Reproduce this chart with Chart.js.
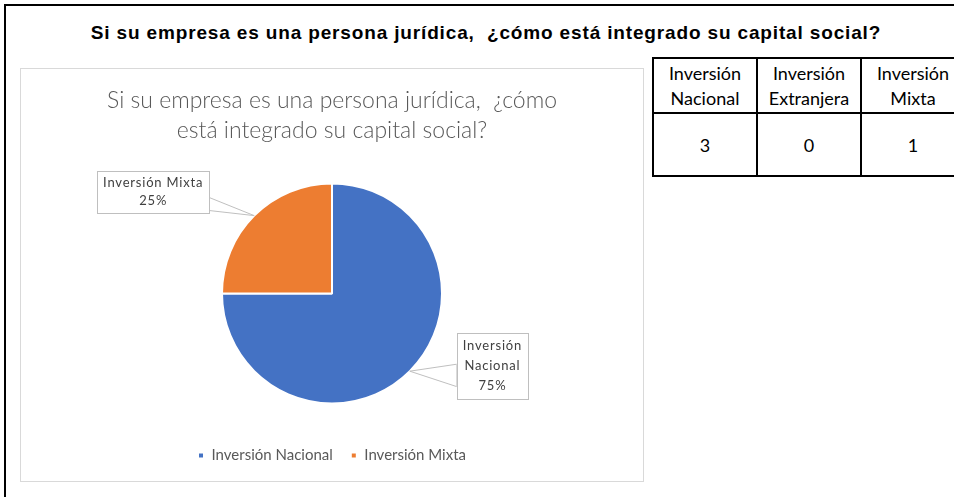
<!DOCTYPE html>
<html>
<head>
<meta charset="utf-8">
<script src="https://cdn.jsdelivr.net/npm/chart.js@4/dist/chart.umd.min.js"></script>
<style>
  html, body { margin: 0; padding: 0; background: #fff; overflow: hidden; }
  body { width: 954px; height: 497px; position: relative; }
  #frame {
    position: absolute; left: 4px; top: 4px; width: 960px; height: 500px;
    border-left: 2px solid #000; border-top: 2px solid #000;
  }
  #header {
    position: absolute; left: 0; top: 22px; width: 972px; text-align: center;
    font: bold 19px "Liberation Sans", Arial, sans-serif; letter-spacing: 0.85px; color: #000;
  }
  #box {
    position: absolute; left: 20px; top: 68px; width: 624px; height: 414px;
    border: 1px solid #d9d9d9; box-sizing: border-box; background: #fff;
  }
  #tbl {
    position: absolute; left: 652px; top: 57px; width: 312px;
    border-collapse: collapse; table-layout: fixed;
    font: 18px Lato, sans-serif; color: #000;
  }
  #tbl td { border: 2px solid #000; text-align: center; padding: 0; width: 102px; }
  #tbl tr.h td { height: 53px; line-height: 25px; }
  #tbl tr.v td { height: 61px; }
</style>
</head>
<body>
<div id="frame"></div>
<div id="header">Si su empresa es una persona jurídica,&nbsp; ¿cómo está integrado su capital social?</div>
<div id="box"><canvas id="pie"></canvas></div>
<table id="tbl">
  <tr class="h"><td></td><td></td><td></td></tr>
  <tr class="v"><td></td><td></td><td></td></tr>
</table>
<script>
const categories = ["Inversión Nacional", "Inversión Extranjera", "Inversión Mixta"];
const headerLines = [["Inversión", "Nacional"], ["Inversión", "Extranjera"], ["Inversión", "Mixta"]];
const counts = [3, 0, 1];

// table next to the chart
const rows = document.querySelectorAll("#tbl tr");
headerLines.forEach((l, i) => { rows[0].cells[i].innerHTML = l.join("<br>"); });
counts.forEach((v, i) => { rows[1].cells[i].textContent = v; });

// the pie only shows categories with answers
const used = counts.map((v, i) => i).filter(i => counts[i] > 0);
const pieLabels = used.map(i => categories[i]);
const pieValues = used.map(i => counts[i]);
const pieColors = ["#4472C4", "#ED7D31"];

// callout placement per slice: side of box, offset from slice edge point
const callouts = [
  { side: "left", dx: 47, dy: -5, wrap: true },
  { side: "right", dx: -45, dy: -24, wrap: false }
];

const calloutPlugin = {
  id: "callouts",
  afterDatasetsDraw(chart) {
    const ctx = chart.ctx;
    const meta = chart.getDatasetMeta(0);
    const data = chart.data.datasets[0].data;
    const total = data.reduce((a, b) => a + b, 0);
    ctx.save();
    ctx.font = "13px Lato";
    ctx.letterSpacing = "0.8px";
    meta.data.forEach((arc, i) => {
      const c = callouts[i];
      const mid = (arc.startAngle + arc.endAngle) / 2;
      const px = arc.x + Math.cos(mid) * arc.outerRadius;
      const py = arc.y + Math.sin(mid) * arc.outerRadius;
      const name = chart.data.labels[i];
      const pct = Math.round(data[i] / total * 100) + "%";
      const lines = c.wrap ? name.split(" ").concat(pct) : [name, pct];
      const lh = c.wrap ? 20 : 18;
      const w = Math.max(...lines.map(t => ctx.measureText(t).width)) + 12;
      const h = lines.length * lh + 6;
      const cy = py + c.dy;
      const bx = c.side === "left" ? px + c.dx : px + c.dx - w;
      const by = cy - h / 2;
      const ex = c.side === "left" ? bx : bx + w;
      ctx.strokeStyle = "#bfbfbf";
      ctx.lineWidth = 1;
      ctx.fillStyle = "#fff";
      ctx.beginPath();
      ctx.moveTo(ex, cy + h * (c.wrap ? -0.03 : 0.14));
      ctx.lineTo(px, py);
      ctx.lineTo(ex, cy + h * (c.wrap ? 0.31 : 0.45));
      ctx.closePath();
      ctx.fill();
      ctx.stroke();
      ctx.fillRect(bx, by, w, h);
      ctx.strokeRect(Math.round(bx) + 0.5, Math.round(by) + 0.5, Math.round(w), Math.round(h));
      ctx.fillStyle = "#404040";
      ctx.textAlign = "center";
      ctx.textBaseline = "middle";
      lines.forEach((t, k) => {
        ctx.fillText(t, bx + w / 2, by + 3 + lh * (k + 0.5));
      });
    });
    ctx.restore();
  }
};

new Chart(document.getElementById("pie"), {
  type: "pie",
  data: {
    labels: pieLabels,
    datasets: [{
      data: pieValues,
      backgroundColor: pieColors,
      borderColor: "#fff",
      borderWidth: 2,
      radius: 110
    }]
  },
  options: {
    responsive: true,
    maintainAspectRatio: false,
    animation: false,
    layout: { padding: { bottom: 8 } },
    plugins: {
      title: {
        display: true,
        text: ["Si su empresa es una persona jurídica,  ¿cómo", "está integrado su capital social?"],
        color: "#595959",
        font: { family: "Lato", size: 23, weight: "300", lineHeight: 1.3 },
        padding: { top: 17, bottom: 11 }
      },
      legend: {
        position: "bottom",
        labels: {
          color: "#595959",
          boxWidth: 6,
          boxHeight: 6,
          padding: 18,
          font: { family: "Lato", size: 15 }
        }
      },
      tooltip: { enabled: false }
    }
  },
  plugins: [calloutPlugin]
});
</script>
</body>
</html>
